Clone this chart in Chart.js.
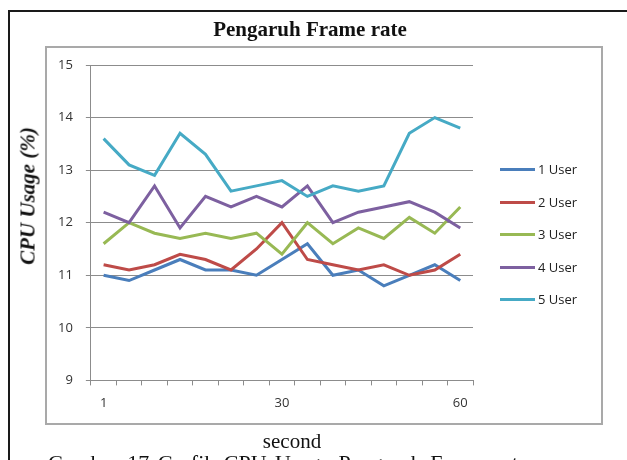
<!DOCTYPE html>
<html>
<head>
<meta charset="utf-8">
<script src="https://cdn.jsdelivr.net/npm/chart.js@4.4.1/dist/chart.umd.min.js"></script>
<style>
  html, body { margin: 0; padding: 0; background: #fff; }
  body { width: 627px; height: 460px; position: relative; overflow: hidden; }
  #frame { position: absolute; left: 8px; top: 10px; width: 700px; height: 500px;
           border-left: 2px solid #1a1a1a; border-top: 2px solid #1a1a1a; }
  #box { position: absolute; left: 45px; top: 46px; width: 558px; height: 379px;
         box-sizing: border-box; border: 2px solid #a9a9a9; }
  canvas { position: absolute; left: 0; top: 0; }
  .txt { position: absolute; font-family: "Liberation Serif", serif; color: #111; white-space: nowrap; }
  #title { left: 160px; width: 300px; top: 17px; text-align: center; font-size: 21px; font-weight: bold; }
  #ytitle { left: 28px; top: 196px; font-size: 21px; font-weight: bold; font-style: italic;
            transform: translate(-50%, -50%) rotate(-90deg); }
  #xtitle { left: 292px; top: 441px; font-size: 21px; transform: translate(-50%, -50%); }
  #caption { left: 48px; top: 451px; font-size: 22px; line-height: 24px; word-spacing: 3px; }
  #legend { position: absolute; left: 500px; top: 0; font-family: "Open Sans", sans-serif; font-size: 13px; color: #222; }
  .leg-item { position: absolute; left: 0; width: 100px; height: 20px; }
  .leg-line { position: absolute; left: 0; top: 8px; width: 35px; height: 3px; }
  .leg-label { position: absolute; left: 38px; top: 0; line-height: 19px; }
</style>
</head>
<body>
<div id="frame"></div>
<div id="box"></div>
<canvas id="chart" width="627" height="460"></canvas>
<div class="txt" id="title">Pengaruh Frame rate</div>
<div class="txt" id="ytitle">CPU Usage (%)</div>
<div class="txt" id="xtitle">second</div>
<div class="txt" id="caption">Gambar 17 Grafik CPU Usage Pengaruh Frame rate</div>
<div id="legend"></div>
<script>
// kategori sumbu x (hanya 3 label yang tampil)
const categories = ['1', '', '', '', '', '', '', '30', '', '', '', '', '', '', '60'];

const seriesNames = ['1 User', '2 User', '3 User', '4 User', '5 User'];
const seriesColors = ['#4a7ebb', '#be4b48', '#98b954', '#7d60a0', '#46aac5'];

const user1 = [11.0, 10.9, 11.1, 11.3, 11.1, 11.1, 11.0, 11.3, 11.6, 11.0, 11.1, 10.8, 11.0, 11.2, 10.9];
const user2 = [11.2, 11.1, 11.2, 11.4, 11.3, 11.1, 11.5, 12.0, 11.3, 11.2, 11.1, 11.2, 11.0, 11.1, 11.4];
const user3 = [11.6, 12.0, 11.8, 11.7, 11.8, 11.7, 11.8, 11.4, 12.0, 11.6, 11.9, 11.7, 12.1, 11.8, 12.3];
const user4 = [12.2, 12.0, 12.7, 11.9, 12.5, 12.3, 12.5, 12.3, 12.7, 12.0, 12.2, 12.3, 12.4, 12.2, 11.9];
const user5 = [13.6, 13.1, 12.9, 13.7, 13.3, 12.6, 12.7, 12.8, 12.5, 12.7, 12.6, 12.7, 13.7, 14.0, 13.8];

const yMin = 9, yMax = 15, yStep = 1;

const allSeries = [user1, user2, user3, user4, user5];
const gridColor = '#8c8c8c';

const ctx = document.getElementById('chart').getContext('2d');
new Chart(ctx, {
    type: 'line',
    data: {
        labels: categories,
        datasets: allSeries.map((values, i) => ({
            label: seriesNames[i],
            data: values,
            borderColor: seriesColors[i],
            backgroundColor: seriesColors[i],
            borderWidth: 3,
            pointRadius: 0,
            tension: 0,
            order: allSeries.length - i // seri terakhir digambar paling atas
        }))
    },
    options: {
        responsive: false,
        animation: false,
        layout: { padding: { left: 45, right: 154, top: 65, bottom: 39 } },
        plugins: { legend: { display: false }, tooltip: { enabled: false } },
        scales: {
            x: {
                offset: true,
                grid: { offset: true, drawOnChartArea: false, drawTicks: true, tickLength: 5, color: gridColor },
                border: { color: gridColor },
                ticks: { autoSkip: false, maxRotation: 0, padding: 10, color: '#333',
                         font: { family: 'Open Sans', size: 13 } }
            },
            y: {
                min: yMin,
                max: yMax,
                grid: { color: gridColor, tickLength: 5 },
                border: { color: gridColor },
                ticks: { stepSize: yStep, padding: 13, color: '#333',
                         font: { family: 'Open Sans', size: 13 } }
            }
        }
    }
});

// legenda manual di kanan
const legend = document.getElementById('legend');
const legendTop = [170, 202.5, 235, 267.5, 300];
seriesNames.forEach((name, i) => {
    const item = document.createElement('div');
    item.className = 'leg-item';
    item.style.top = (legendTop[i] - 10) + 'px';
    item.innerHTML = '<div class="leg-line" style="background:' + seriesColors[i] + '"></div>' +
                     '<div class="leg-label">' + name + '</div>';
    legend.appendChild(item);
});
</script>
</body>
</html>
